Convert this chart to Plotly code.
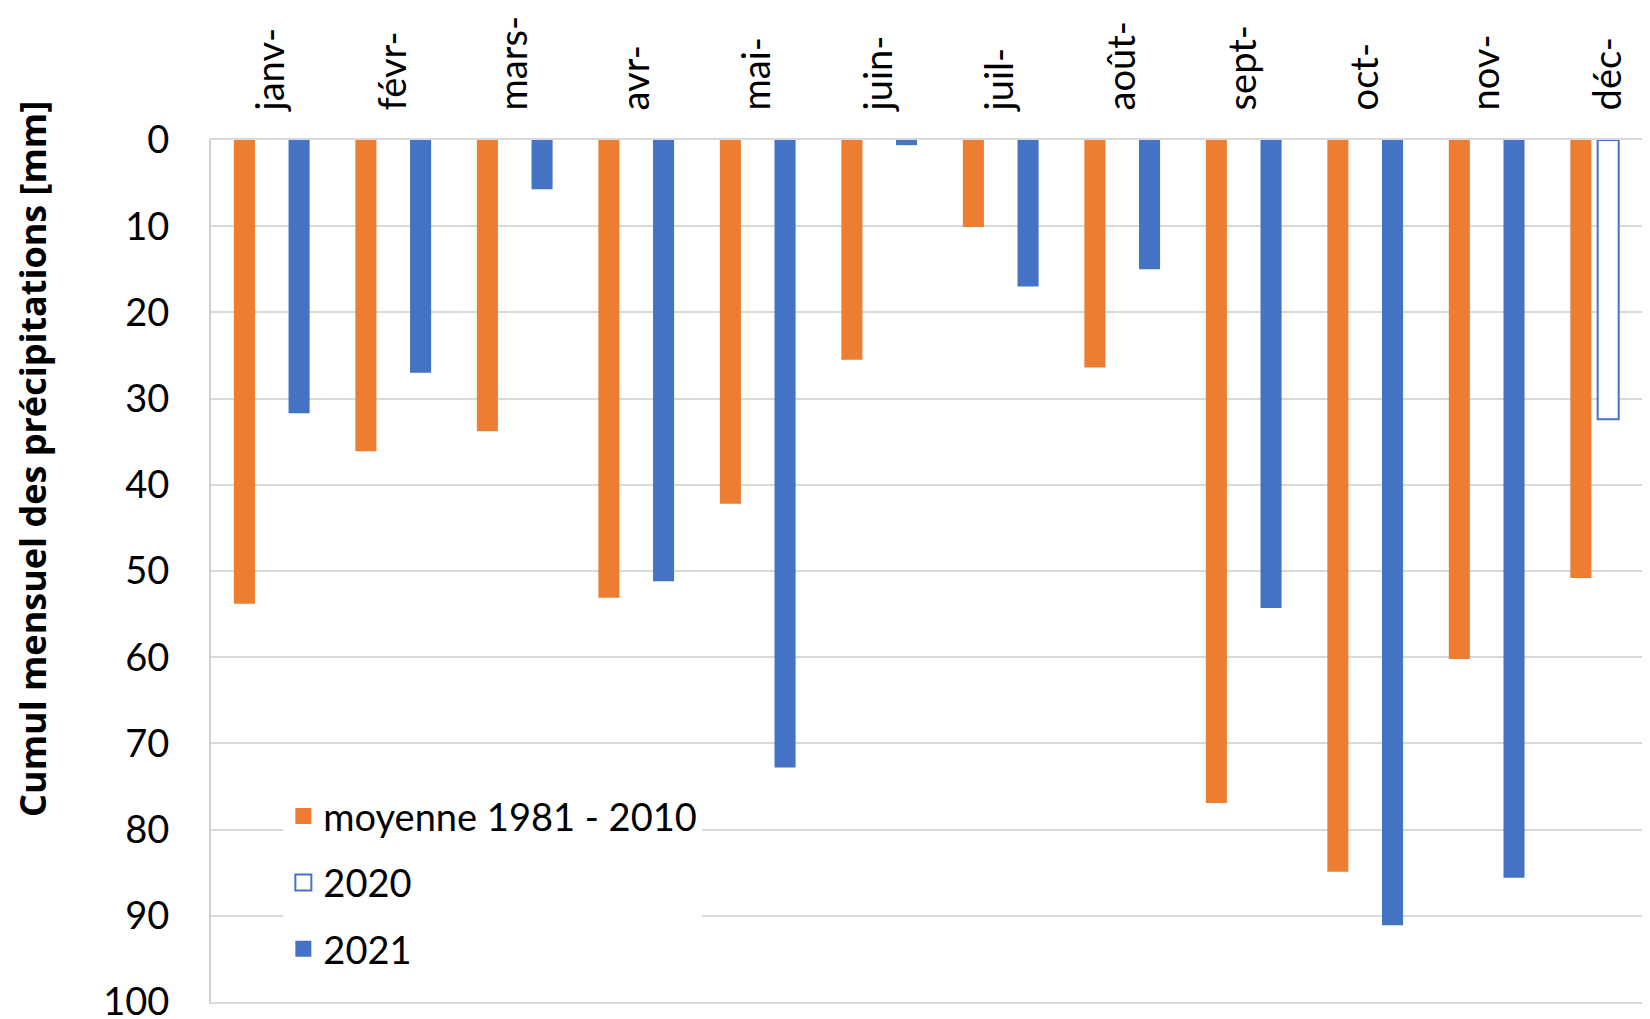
import plotly.graph_objects as go

months = ["janv-", "févr-", "mars-", "avr-", "mai-", "juin-", "juil-", "août-", "sept-", "oct-", "nov-", "déc-"]
moyenne = [53.8, 36.1, 33.8, 53.1, 42.2, 25.5, 10.1, 26.4, 76.9, 84.9, 60.2, 50.8]
y2020 = [None, None, None, None, None, None, None, None, None, None, None, 32.4]
y2021 = [31.7, 27.0, 5.7, 51.2, 72.8, 0.6, 17.0, 15.0, 54.3, 91.1, 85.6, None]
yticks = [0, 10, 20, 30, 40, 50, 60, 70, 80, 90, 100]

ORANGE = "#ED7D31"
BLUE = "#4472C4"
FONT = "Lato"

fig = go.Figure()
fig.add_trace(go.Bar(x=months, y=moyenne, name="moyenne 1981 - 2010",
                     marker=dict(color=ORANGE, line=dict(width=0)), showlegend=False))
fig.add_trace(go.Bar(x=months, y=y2020, name="2020",
                     marker=dict(color="white", line=dict(color=BLUE, width=2)), showlegend=False))
fig.add_trace(go.Bar(x=months, y=y2021, name="2021",
                     marker=dict(color=BLUE, line=dict(width=0)), showlegend=False))

# legend entries
fig.add_trace(go.Scatter(x=[None], y=[None], mode="markers", name="moyenne 1981 - 2010",
                         legendgroup="a", marker=dict(symbol="square", size=16, color=ORANGE)))
fig.add_trace(go.Scatter(x=[None], y=[None], mode="markers", name="2020",
                         legendgroup="b", marker=dict(symbol="square", size=16, color="white",
                                                      line=dict(color=BLUE, width=2))))
fig.add_trace(go.Scatter(x=[None], y=[None], mode="markers", name="2021",
                         legendgroup="c", marker=dict(symbol="square", size=16, color=BLUE)))

fig.update_layout(
    width=1650, height=1019,
    margin=dict(l=203, r=0, t=132, b=25),
    paper_bgcolor="white", plot_bgcolor="white",
    barmode="group", bargap=0.325, bargroupgap=0.23,
    font=dict(family=FONT, color="black", size=36),
    legend=dict(x=0.05, y=0.252, xanchor="left", yanchor="top",
                bgcolor="white", borderwidth=0, traceorder="grouped",
                tracegroupgap=14, font=dict(family=FONT, size=38, color="black")),
    xaxis=dict(side="top", type="category", range=[-0.5, 11.41], tickangle=-90,
               showgrid=False, showline=True, linecolor="#D9D9D9", linewidth=2,
               mirror=True, ticks="", ticklabelstandoff=20, automargin=False,
               tickfont=dict(family=FONT, size=38, color="black")),
    yaxis=dict(range=[100, 0], tickvals=yticks, showgrid=True, gridcolor="#D9D9D9",
               gridwidth=2, showline=True, linecolor="#D0D0D0", linewidth=2,
               zeroline=False, ticks="", ticklabelstandoff=32, automargin=False,
               ticklabeloverflow="allow",
               tickfont=dict(family=FONT, size=38, color="black")),
    annotations=[dict(text="<b>Cumul mensuel des précipitations [mm]</b>",
                      xref="paper", yref="paper", x=0, y=0.63, xshift=-178,
                      xanchor="center", yanchor="middle", textangle=-90, showarrow=False,
                      borderpad=0,
                      font=dict(family="Open Sans", size=36, color="black"))],
)

fig.write_html("out.html")
